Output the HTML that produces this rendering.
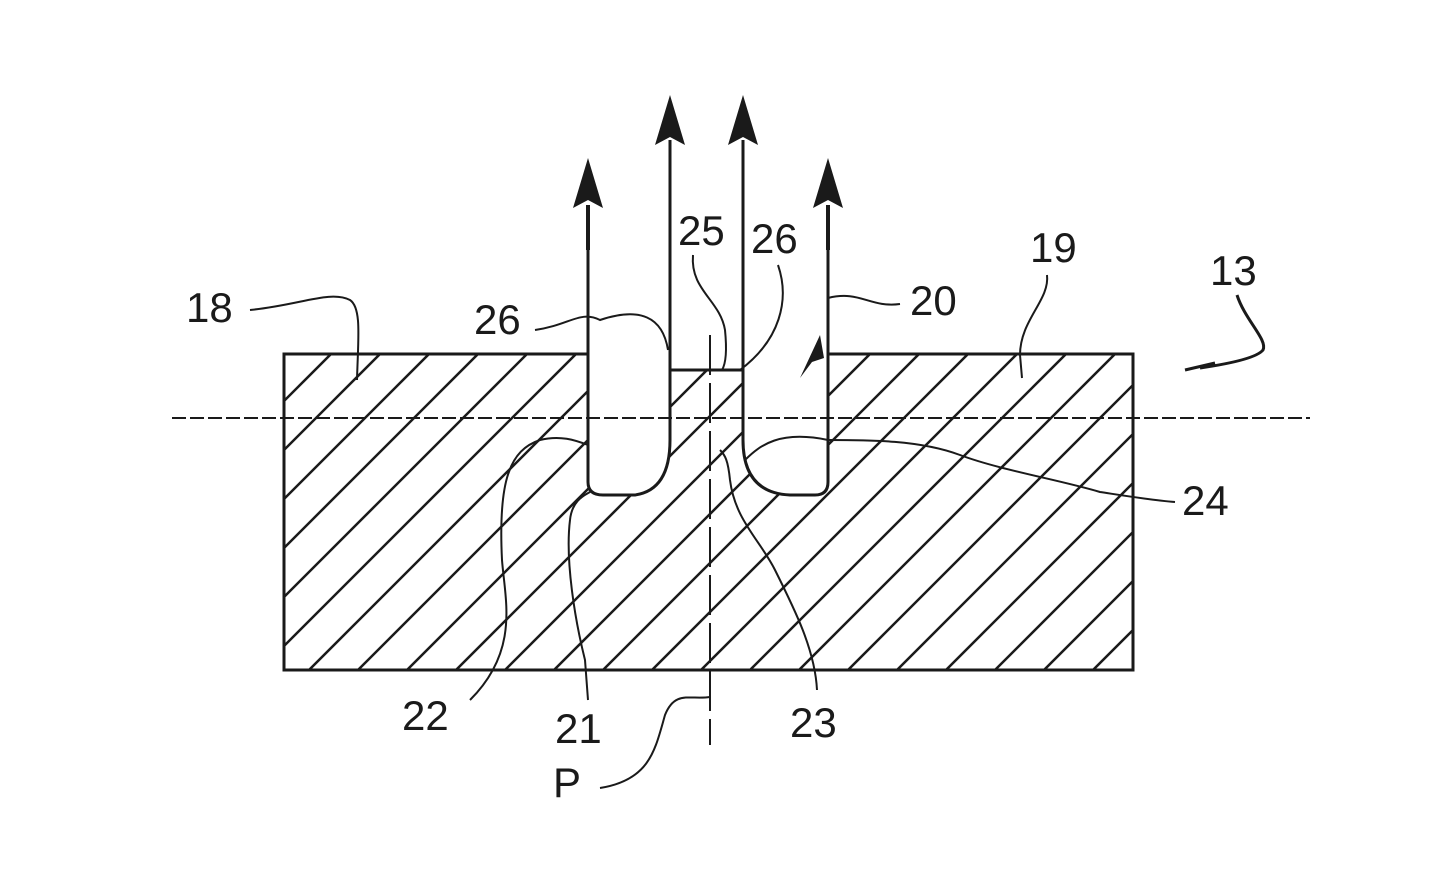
<!DOCTYPE html>
<html><head><meta charset="utf-8"><style>
html,body{margin:0;padding:0;background:#fff;width:1447px;height:888px;overflow:hidden;}
svg{display:block;}
text{font-family:"Liberation Sans",sans-serif;font-size:42px;fill:#1a1a1a;}
</style></head><body>
<svg width="1447" height="888" viewBox="0 0 1447 888" xmlns="http://www.w3.org/2000/svg">
<defs>
<clipPath id="rc"><rect x="284" y="354" width="849" height="316"/></clipPath>
</defs>
<g clip-path="url(#rc)" stroke="#1a1a1a" stroke-width="2.5">
<line x1="0" y1="685" x2="700" y2="-15"/>
<line x1="0" y1="734" x2="750" y2="-16"/>
<line x1="0" y1="783" x2="800" y2="-17"/>
<line x1="0" y1="832" x2="850" y2="-18"/>
<line x1="0" y1="881" x2="900" y2="-19"/>
<line x1="0" y1="930" x2="950" y2="-20"/>
<line x1="0" y1="979" x2="1000" y2="-21"/>
<line x1="0" y1="1028" x2="1050" y2="-22"/>
<line x1="0" y1="1077" x2="1100" y2="-23"/>
<line x1="0" y1="1126" x2="1150" y2="-24"/>
<line x1="0" y1="1175" x2="1200" y2="-25"/>
<line x1="0" y1="1224" x2="1250" y2="-26"/>
<line x1="0" y1="1273" x2="1300" y2="-27"/>
<line x1="0" y1="1322" x2="1350" y2="-28"/>
<line x1="0" y1="1371" x2="1400" y2="-29"/>
<line x1="0" y1="1420" x2="1450" y2="-30"/>
<line x1="0" y1="1469" x2="1500" y2="-31"/>
<line x1="0" y1="1518" x2="1550" y2="-32"/>
<line x1="0" y1="1567" x2="1600" y2="-33"/>
<line x1="0" y1="1616" x2="1650" y2="-34"/>
<line x1="0" y1="1665" x2="1700" y2="-35"/>
<line x1="0" y1="1714" x2="1750" y2="-36"/>
<line x1="0" y1="1763" x2="1800" y2="-37"/>
<line x1="0" y1="1812" x2="1850" y2="-38"/>
</g>
<path d="M588,350 L588,482 Q588,495 603,495 L635,495 Q670,490 670,440 L670,370 L743,370 L743,440 Q743,493 790,495 L815,495 Q828,495 828,482 L828,350 Z" fill="#fff" stroke="none"/>
<line x1="172" y1="418" x2="1310" y2="418" stroke="#1a1a1a" stroke-width="2" stroke-dasharray="14,4"/>
<line x1="710" y1="335" x2="710" y2="745" stroke="#1a1a1a" stroke-width="2" stroke-dasharray="40,8"/>
<g stroke="#1a1a1a" fill="none" stroke-width="3">
<path d="M588,354 L284,354 L284,670 L1133,670 L1133,354 L828,354"/>
<path d="M588,250 L588,482 Q588,495 603,495 L635,495 Q670,490 670,440 L670,140"/>
<path d="M670,370 L743,370"/>
<path d="M743,140 L743,440 Q743,493 790,495 L815,495 Q828,495 828,482 L828,250"/>
</g>
<g stroke="#1a1a1a" stroke-width="4">
<line x1="588" y1="205" x2="588" y2="250"/>
<line x1="828" y1="205" x2="828" y2="250"/>
</g>
<g fill="#1a1a1a">
<polygon points="588,158 573,208 588,200 603,208"/>
<polygon points="828,158 813,208 828,200 843,208"/>
<polygon points="670,95 655,145 670,137 685,145"/>
<polygon points="743,95 728,145 743,137 758,145"/>
<polygon points="820,335 800,378 812,362 824,358"/>
</g>
<g stroke="#1a1a1a" fill="none" stroke-width="2">
<path d="M250,310 C300,305 330,290 350,300 C362,308 358,340 357,380"/>
<path d="M535,330 C570,325 580,310 600,320 Q660,300 668,350"/>
<path d="M693,255 C690,290 720,300 725,330 Q728,360 722,370"/>
<path d="M778,265 C790,300 780,340 740,370"/>
<path d="M828,298 C860,290 870,308 900,304"/>
<path d="M1047,275 C1050,300 1020,320 1020,355 L1022,378"/>
<path d="M1237,295 C1245,320 1268,340 1263,350 Q1255,360 1200,368 M1185,370 L1215,363" stroke-width="3"/>
<path d="M1175,502 C1150,500 1120,495 1100,492 C1060,480 1000,470 960,455 C920,440 870,440 828,440"/>
<path d="M828,440 C780,430 760,445 745,460"/>
<path d="M470,700 C520,650 505,600 502,560 C498,480 510,450 540,440 C560,435 575,440 588,445"/>
<path d="M588,700 L585,660 C575,620 565,560 570,520 C572,500 585,495 590,492"/>
<path d="M817,690 C815,650 795,610 775,570 C760,540 735,520 730,480 C728,460 725,455 720,450"/>
<path d="M710,697 C690,700 675,690 665,715 C655,750 650,780 600,788"/>
</g>
<text x="186" y="322">18</text>
<text x="474" y="334">26</text>
<text x="678" y="245">25</text>
<text x="751" y="253">26</text>
<text x="910" y="315">20</text>
<text x="1030" y="262">19</text>
<text x="1210" y="285">13</text>
<text x="1182" y="515">24</text>
<text x="402" y="730">22</text>
<text x="555" y="743">21</text>
<text x="790" y="737">23</text>
<text x="553" y="797">P</text>
</svg>
</body></html>
